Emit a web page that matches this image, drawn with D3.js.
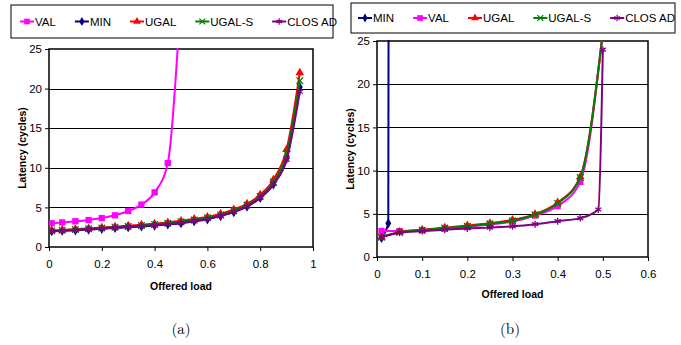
<!DOCTYPE html>
<html>
<head>
<meta charset="utf-8">
<script src="https://cdnjs.cloudflare.com/ajax/libs/d3/7.8.5/d3.min.js"></script>
<style>
  body { margin: 0; background: #fff; }
  svg { display: block; }
  text { font-family: "Liberation Sans", Arial, sans-serif; fill: #000; }
</style>
</head>
<body>
<svg id="chart" width="681" height="345"></svg>
<script>
// ---- data (a) ----
const loadA = [0.01, 0.05, 0.1, 0.15, 0.2, 0.25, 0.3, 0.35, 0.4, 0.45, 0.5, 0.55, 0.6, 0.65, 0.7, 0.75, 0.8, 0.85, 0.9, 0.95];
const aVAL = [3.0, 3.1, 3.25, 3.4, 3.65, 4.0, 4.55, 5.35, 6.9, 10.6, 32];
const aMIN = [2.0, 2.05, 2.1, 2.2, 2.3, 2.4, 2.5, 2.6, 2.7, 2.85, 3.0, 3.25, 3.5, 3.9, 4.4, 5.1, 6.2, 7.9, 11.2, 20.2];
const aUGAL = [2.1, 2.15, 2.25, 2.35, 2.45, 2.55, 2.7, 2.8, 2.95, 3.1, 3.3, 3.55, 3.8, 4.2, 4.75, 5.45, 6.6, 8.5, 12.3, 22.0];
const aUGALS = [2.05, 2.1, 2.2, 2.3, 2.4, 2.5, 2.6, 2.7, 2.85, 3.0, 3.2, 3.4, 3.7, 4.05, 4.6, 5.3, 6.4, 8.2, 11.8, 21.0];
const aCLOS = [2.0, 2.05, 2.15, 2.25, 2.35, 2.45, 2.55, 2.65, 2.75, 2.9, 3.05, 3.3, 3.55, 3.95, 4.45, 5.15, 6.25, 7.95, 11.0, 19.6];

// ---- data (b) ----
const loadB = [0.01, 0.05, 0.1, 0.15, 0.2, 0.25, 0.3, 0.35, 0.4, 0.45, 0.5];
const loadBMin = [0.01, 0.025, 0.03];
const loadBClos = [0.01, 0.05, 0.1, 0.15, 0.2, 0.25, 0.3, 0.35, 0.4, 0.45, 0.49, 0.5];
const bMIN = [2.2, 3.9, 200];
const bVAL = [3.0, 3.0, 3.1, 3.3, 3.5, 3.75, 4.1, 4.8, 5.9, 8.7, 26];
const bUGAL = [2.3, 2.9, 3.15, 3.4, 3.65, 3.9, 4.3, 4.95, 6.3, 9.3, 26];
const bUGALS = [2.3, 2.85, 3.1, 3.35, 3.55, 3.85, 4.2, 4.9, 6.2, 9.2, 26];
const bCLOS = [2.3, 2.8, 3.0, 3.15, 3.3, 3.4, 3.55, 3.8, 4.15, 4.5, 5.5, 24];

const yTicks = [0, 5, 10, 15, 20, 25];
const xTicksA = [0, 0.2, 0.4, 0.6, 0.8, 1];
const xTicksB = [0, 0.1, 0.2, 0.3, 0.4, 0.5, 0.6];

const style = {
  VAL: { color: '#ff00ff', symbol: d3.symbolSquare, size: 40, fill: true },
  MIN: { color: '#000080', symbol: d3.symbolDiamond, size: 30, fill: true },
  UGAL: { color: '#ff0000', symbol: d3.symbolTriangle, size: 32, fill: true },
  'UGAL-S': { color: '#008000', symbol: d3.symbolX, size: 30, fill: false },
  'CLOS AD': { color: '#800080', symbol: d3.symbolAsterisk, size: 34, fill: false }
};

const svg = d3.select('#chart');

function zip(xs, ys) { return ys.map((v, i) => ({ x: xs[i], y: v })); }

function drawPanel(cfg) {
  const g = svg.append('g');
  const x = d3.scaleLinear().domain(cfg.xDomain).range([cfg.left, cfg.right]);
  const y = d3.scaleLinear().domain([0, 25]).range([cfg.bottom, cfg.top]);

  // legend box
  g.append('rect')
    .attr('x', cfg.legend.x).attr('y', cfg.legend.y)
    .attr('width', cfg.legend.w).attr('height', cfg.legend.h)
    .attr('fill', '#fff').attr('stroke', '#000').attr('stroke-width', 1);
  let lx = cfg.legend.x + cfg.legend.pad;
  const ly = cfg.legend.y + cfg.legend.h / 2;
  cfg.series.forEach(s => {
    const st = style[s.name];
    g.append('line').attr('x1', lx).attr('x2', lx + 14).attr('y1', ly).attr('y2', ly)
      .attr('stroke', st.color).attr('stroke-width', 2);
    g.append('path').attr('d', d3.symbol(st.symbol, st.size * 0.8)())
      .attr('transform', `translate(${lx + 7},${ly})`)
      .attr('fill', st.fill ? st.color : 'none')
      .attr('stroke', st.color).attr('stroke-width', st.fill ? 0 : 1.2);
    const t = g.append('text').attr('x', lx + 15).attr('y', ly + 4)
      .attr('font-size', 11.5).text(s.name);
    lx += 15 + t.node().getComputedTextLength() + cfg.legend.gap;
  });

  // grid lines
  g.selectAll('.grid').data(yTicks.filter(d => d > 0 && d < 25)).enter().append('line')
    .attr('x1', cfg.left).attr('x2', cfg.right)
    .attr('y1', d => Math.round(y(d)) + 0.5).attr('y2', d => Math.round(y(d)) + 0.5)
    .attr('stroke', '#000').attr('stroke-width', 1);

  // axes
  const ya = g.append('g').attr('transform', `translate(${cfg.left},0)`)
    .call(d3.axisLeft(y).tickValues(yTicks).tickSize(4).tickSizeOuter(0));
  const xa = g.append('g').attr('transform', `translate(0,${cfg.bottom})`)
    .call(d3.axisBottom(x).tickValues(cfg.xTicks).tickSize(4).tickSizeOuter(0).tickFormat(d3.format('')));
  [ya, xa].forEach(a => {
    a.select('.domain').remove();
    a.selectAll('line').attr('stroke', '#000');
    a.selectAll('text').attr('font-size', 11.5).attr('font-family', '"Liberation Sans", Arial, sans-serif').attr('fill', '#000');
  });
  xa.selectAll('text').attr('dy', '1.2em');

  // plot frame
  g.append('rect').attr('x', cfg.left).attr('y', cfg.top)
    .attr('width', cfg.right - cfg.left).attr('height', cfg.bottom - cfg.top)
    .attr('fill', 'none').attr('stroke', '#000').attr('stroke-width', 1.5);

  // clip
  const clipId = 'clip-' + cfg.id;
  g.append('clipPath').attr('id', clipId).append('rect')
    .attr('x', cfg.left).attr('y', cfg.top - 1)
    .attr('width', cfg.right - cfg.left).attr('height', cfg.bottom - cfg.top + 1);
  const plot = g.append('g').attr('clip-path', `url(#${clipId})`);

  const line = d3.line().x(d => x(d.x)).y(d => y(d.y)).curve(d3.curveMonotoneX);
  cfg.series.forEach(s => {
    const st = style[s.name];
    const pts = zip(s.xs, s.ys);
    plot.append('path').datum(pts).attr('d', line)
      .attr('fill', 'none').attr('stroke', st.color).attr('stroke-width', 2);
    plot.selectAll(null).data(pts.filter(p => p.y <= 25.5)).enter().append('path')
      .attr('d', d3.symbol(st.symbol, st.size)())
      .attr('transform', p => `translate(${x(p.x)},${y(p.y)})`)
      .attr('fill', st.fill ? st.color : 'none')
      .attr('stroke', st.color).attr('stroke-width', st.fill ? 0 : 1.3);
  });

  // axis titles
  g.append('text').attr('x', (cfg.left + cfg.right) / 2).attr('y', cfg.xTitleY)
    .attr('text-anchor', 'middle').attr('font-size', 10.5).attr('font-weight', 'bold')
    .text('Offered load');
  g.append('text')
    .attr('transform', `translate(${cfg.yTitleX},${(cfg.top + cfg.bottom) / 2}) rotate(-90)`)
    .attr('text-anchor', 'middle').attr('font-size', 10.5).attr('font-weight', 'bold')
    .text('Latency (cycles)');

  // caption
  svg.append('text').attr('x', cfg.capX).attr('y', 334)
    .attr('text-anchor', 'middle').attr('font-size', 15)
    .style('font-family', '"Latin Modern Roman", "DejaVu Serif", "Liberation Serif", serif')
    .text(cfg.caption);
}

drawPanel({
  id: 'a', left: 49, right: 313, top: 49, bottom: 247, xDomain: [0, 1], xTicks: xTicksA,
  legend: { x: 11, y: 5, w: 322, h: 33, pad: 9, gap: 19 },
  xTitleY: 290, yTitleX: 26, capX: 181, caption: '(a)',
  series: [
    { name: 'VAL', xs: loadA, ys: aVAL },
    { name: 'MIN', xs: loadA, ys: aMIN },
    { name: 'UGAL', xs: loadA, ys: aUGAL },
    { name: 'UGAL-S', xs: loadA, ys: aUGALS },
    { name: 'CLOS AD', xs: loadA, ys: aCLOS }
  ]
});

drawPanel({
  id: 'b', left: 377, right: 648, top: 41, bottom: 257, xDomain: [0, 0.6], xTicks: xTicksB,
  legend: { x: 351, y: 3, w: 324, h: 30, pad: 7, gap: 19 },
  xTitleY: 298, yTitleX: 354, capX: 510, caption: '(b)',
  series: [
    { name: 'MIN', xs: loadBMin, ys: bMIN },
    { name: 'VAL', xs: loadB, ys: bVAL },
    { name: 'UGAL', xs: loadB, ys: bUGAL },
    { name: 'UGAL-S', xs: loadB, ys: bUGALS },
    { name: 'CLOS AD', xs: loadBClos, ys: bCLOS }
  ]
});
</script>
</body>
</html>
